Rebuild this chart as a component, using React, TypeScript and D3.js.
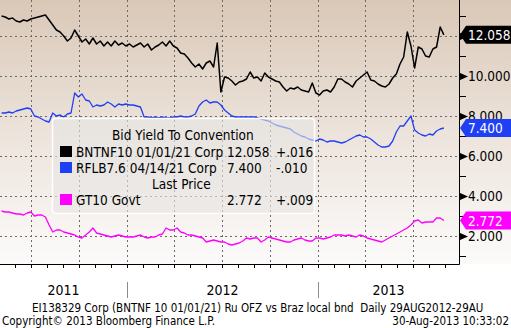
import React from "react";
import * as d3 from "d3";

const W = 511;
const H = 328;

// weekly observations (Fridays), first date below
const START_DATE = "2011-05-06";

const bntnf10 = [
  13.0, 12.95, 12.85, 12.9, 12.75, 12.7, 12.8, 12.75, 12.85, 12.9,
  12.95, 13.0, 13.05, 12.8, 12.55, 12.3, 12.2, 12.0, 11.75, 11.9,
  12.3, 12.0, 11.7, 11.85, 11.6, 11.9, 11.6, 11.75, 11.5, 11.7,
  11.5, 11.75, 11.55, 11.65, 11.5, 11.6, 11.45, 11.55, 11.65, 11.45,
  11.6, 11.3, 11.45, 11.55, 11.7, 11.5, 11.75, 11.5, 11.4, 11.15,
  11.1, 10.9, 10.65, 10.45, 10.6, 10.35, 10.65, 10.75, 10.45, 11.65,
  9.2, 9.95, 9.9, 9.75, 9.55, 9.7, 9.75, 9.85, 10.2, 9.9,
  9.95, 9.75, 10.15, 9.95, 9.85, 9.75, 9.7, 9.45, 9.25, 9.4,
  9.35, 9.45, 9.3, 9.25, 9.2, 9.65, 9.15, 9.05, 9.25, 9.3,
  9.2, 9.45, 9.85, 9.85, 9.7, 9.6, 9.45, 9.75, 9.9, 10.05,
  10.2, 9.8, 9.75, 9.6, 9.5, 9.45, 9.6, 9.9, 10.1, 10.6,
  10.95, 12.2, 11.5, 10.4, 11.45, 11.35, 11.0, 10.95, 11.35, 11.45,
  12.45, 12.058,
];

const rflb76 = [
  8.15, 8.15, 8.2, 8.15, 8.25, 8.3, 8.35, 8.4, 8.35, 8.0,
  7.95, 7.85, 7.75, 7.7, 8.15, 8.0, 8.05, 7.95, 8.1, 8.15,
  9.15, 8.95, 9.1, 8.8, 8.75, 8.45, 8.55, 8.5, 8.55, 8.7,
  8.6, 8.45, 8.6, 8.55, 8.6, 8.55, 8.55, 8.5, 8.45, 7.95,
  7.95, 7.9, 7.95, 7.9, 7.95, 7.9, 7.9, 7.95, 7.95, 8.0,
  7.95, 7.95, 8.0, 8.1, 8.5, 8.7, 8.8, 8.65, 8.7, 8.7,
  8.55, 8.3, 8.15, 8.0, 7.95, 7.95, 7.95, 7.95, 7.95, 7.95,
  7.9, 7.85, 7.8, 7.75, 7.65, 7.55, 7.5, 7.45, 7.4, 7.35,
  7.2, 7.1, 7.0, 6.95, 6.85, 6.8, 6.75, 6.85, 6.8, 6.7,
  6.75, 6.75, 6.7, 6.65, 6.7, 6.8, 6.9, 7.0, 7.05, 6.95,
  6.95, 6.85, 6.7, 6.55, 6.45, 6.45, 6.5, 6.75, 7.2, 7.5,
  7.5, 7.75, 8.0, 7.3, 7.15, 7.05, 7.0, 7.1, 7.05, 7.25,
  7.35, 7.4,
];

const gt10 = [
  3.25, 3.2, 3.2, 3.15, 3.1, 3.1, 3.05, 3.15, 3.2, 3.0,
  3.05, 3.05, 2.95, 2.55, 2.2, 2.3, 2.3, 2.2, 2.15, 2.1,
  2.05, 1.95, 1.9, 2.05, 2.2, 2.4, 2.15, 2.1, 2.05, 2.0,
  1.95, 2.0, 2.05, 2.0, 1.95, 1.95, 1.95, 2.0, 2.05, 1.95,
  1.9, 1.95, 1.95, 2.05, 2.1, 2.4, 2.3, 2.3, 2.4, 2.2,
  2.15, 2.05, 2.05, 2.0, 1.95, 1.9, 1.7, 1.75, 1.8, 1.75,
  1.7, 1.7, 1.6, 1.55, 1.6, 1.65, 1.75, 1.9, 1.85, 1.9,
  1.9, 1.7, 1.8, 1.95, 1.9, 1.85, 1.8, 1.75, 1.7, 1.7,
  1.8, 1.85, 1.9, 1.8, 1.75, 1.75, 1.9, 1.9, 1.85, 1.9,
  1.95, 2.05, 2.05, 2.05, 2.0, 2.05, 2.0, 1.95, 2.05, 2.0,
  1.9, 1.85, 1.8, 1.75, 1.7, 1.8, 1.9, 2.0, 2.1, 2.2,
  2.3, 2.4, 2.55, 2.75, 2.8, 2.65, 2.7, 2.7, 2.7, 2.9,
  2.9, 2.772,
];

const seriesNames = ["BNTNF10 01/01/21 Corp", "RFLB7.6 04/14/21 Corp", "GT10 Govt"];
const seriesColors = ["#000000", "#1f3ff5", "#ff00ff"];
const lastLabels = ["12.058", "7.400", "2.772"];
const changeLabels = ["+.016", "-.010", "+.009"];

const yMajorTicks = [2, 4, 6, 8, 10, 12];
const yMinorTicks = [1, 3, 5, 7, 9, 11, 13];
const yearLabels = ["2011", "2012", "2013"];

const legendTitle = "Bid Yield To Convention";
const legendSubTitle = "Last Price";
const footerLine1 = "EI138329 Corp (BNTNF 10 01/01/21) Ru OFZ vs Braz local bnd  Daily 29AUG2012-29AU";
const footerCopyright = "Copyright\u00A9 2013 Bloomberg Finance L.P.";
const footerStamp = "30-Aug-2013 10:33:02";

const FONT = "'DejaVu Sans Condensed', 'DejaVu Sans', sans-serif";

export default function App() {
  const plotRight = 459;
  const plotBottom = 264;

  const x = d3
    .scaleTime()
    .domain([new Date(2011, 4, 3), new Date(2013, 8, 28)])
    .range([0, plotRight]);
  const y = d3.scaleLinear().domain([0.6, 13.8]).range([plotBottom, 0]);

  const start = d3.timeParse("%Y-%m-%d")(START_DATE) as Date;
  const dates = bntnf10.map((_, i) => d3.timeDay.offset(start, 7 * i));

  const line = d3
    .line<number>()
    .x((_, i) => x(dates[i]))
    .y((d) => y(d));

  const all = [bntnf10, rflb76, gt10];

  const [d0, d1] = x.domain();
  const quarters = d3.timeMonth.range(d0, d1).filter((d) => d.getMonth() % 3 === 0);
  const months = d3.timeMonth.range(d0, d1);
  const yearStarts = d3.timeYear.range(d0, d1);
  const yearCenters = yearLabels.map((yl) => {
    const a = new Date(+yl, 0, 1);
    const b = new Date(+yl + 1, 0, 1);
    const xa = Math.max(0, x(a));
    const xb = Math.min(plotRight, x(b));
    return (xa + xb) / 2;
  });

  const tag = (v: number) => {
    const cy = y(v);
    const h = 18;
    return `M${plotRight + 1},${cy} L${plotRight + 7},${cy - h / 2} L${W},${cy - h / 2} L${W},${cy + h / 2} L${plotRight + 7},${cy + h / 2} Z`;
  };

  const lastVals = all.map((s) => s[s.length - 1]);

  return (
    <svg
      width={W}
      height={H}
      style={{ position: "absolute", left: 0, top: 0, background: "#fff" }}
      fontFamily={FONT}
    >
      <defs>
        <linearGradient id="bg" x1="0" y1="0" x2="0" y2="1">
          <stop offset="0" stopColor="#dac8b7" />
          <stop offset="0.5" stopColor="#ece3db" />
          <stop offset="1" stopColor="#fcfbfa" />
        </linearGradient>
      </defs>
      <rect x={0} y={0} width={W} height={plotBottom} fill="url(#bg)" />

      {/* grid */}
      {yMajorTicks.map((t) => (
        <line key={"hg" + t} x1={0} x2={plotRight} y1={y(t) + 0.5} y2={y(t) + 0.5} stroke="#6a6a6a" strokeDasharray="2,3" />
      ))}
      {quarters.map((q) => (
        <line key={"vg" + +q} x1={Math.round(x(q)) + 0.5} x2={Math.round(x(q)) + 0.5} y1={0} y2={plotBottom} stroke="#6a6a6a" strokeDasharray="2,3" />
      ))}

      {/* series */}
      {all.map((s, k) => (
        <path key={"s" + k} d={line(s) || ""} fill="none" stroke={seriesColors[k]} strokeWidth={k === 0 ? 1.5 : 1.3} strokeLinejoin="round" />
      ))}

      {/* legend */}
      <rect x={52.5} y={118.5} width={262} height={95} rx={3} fill="#e6e5e4" fillOpacity={0.62} stroke="#ffffff" strokeWidth={1.5} />
      <g fontSize={13.5} fill="#000">
        <text x={112} y={140}>{legendTitle}</text>
        {[0, 1].map((k) => (
          <g key={"lg" + k}>
            <rect x={60} y={146 + k * 16} width={12} height={11} fill={seriesColors[k]} />
            <text x={76} y={157 + k * 16}>{seriesNames[k]}</text>
            <text x={227} y={157 + k * 16}>{lastLabels[k]}</text>
            <text x={276} y={157 + k * 16}>{changeLabels[k]}</text>
          </g>
        ))}
        <text x={152} y={189}>{legendSubTitle}</text>
        <rect x={60} y={194} width={12} height={11} fill={seriesColors[2]} />
        <text x={76} y={205}>{seriesNames[2]}</text>
        <text x={227} y={205}>{lastLabels[2]}</text>
        <text x={276} y={205}>{changeLabels[2]}</text>
      </g>

      {/* axes */}
      <line x1={0} x2={plotRight + 0.5} y1={plotBottom + 0.5} y2={plotBottom + 0.5} stroke="#000" />
      <line x1={plotRight + 0.5} x2={plotRight + 0.5} y1={0} y2={plotBottom + 0.5} stroke="#000" />
      {months.map((m) => (
        <line key={"mt" + +m} x1={Math.round(x(m)) + 0.5} x2={Math.round(x(m)) + 0.5} y1={plotBottom} y2={plotBottom + 4} stroke="#000" />
      ))}
      {yMinorTicks.map((t) => (
        <line key={"ymt" + t} x1={plotRight} x2={plotRight + 7} y1={Math.round(y(t)) + 0.5} y2={Math.round(y(t)) + 0.5} stroke="#000" />
      ))}
      {yMajorTicks.map((t) => (
        <g key={"yM" + t}>
          <path d={`M${plotRight},${y(t) - 3.5} L${plotRight + 9},${y(t) + 0.5} L${plotRight},${y(t) + 4.5} Z`} fill="#000" />
          <text x={468} y={y(t) + 5} fontSize={13.5} fill="#000">{d3.format(".3f")(t)}</text>
        </g>
      ))}

      {/* last value tags */}
      {lastVals.map((v, k) => (
        <g key={"tag" + k}>
          <path d={tag(v)} fill={seriesColors[k]} />
          <text x={468} y={y(v) + 5} fontSize={13.5} fill="#fff">{lastLabels[k]}</text>
        </g>
      ))}

      {/* x labels */}
      {yearStarts.map((ys) => (
        <line key={"ys" + +ys} x1={Math.round(x(ys)) + 0.5} x2={Math.round(x(ys)) + 0.5} y1={282} y2={298} stroke="#8c8c8c" />
      ))}
      {yearLabels.map((yl, i) => (
        <text key={yl} x={yearCenters[i]} y={295} fontSize={14} textAnchor="middle" fill="#000">{yl}</text>
      ))}

      {/* footer */}
      <text x={32} y={312} fontSize={11.5} fill="#000" style={{ whiteSpace: "pre" }}>{footerLine1}</text>
      <text x={2} y={325} fontSize={11.5} fill="#000">{footerCopyright}</text>
      <text x={509} y={325} fontSize={11.5} textAnchor="end" fill="#000">{footerStamp}</text>
    </svg>
  );
}
